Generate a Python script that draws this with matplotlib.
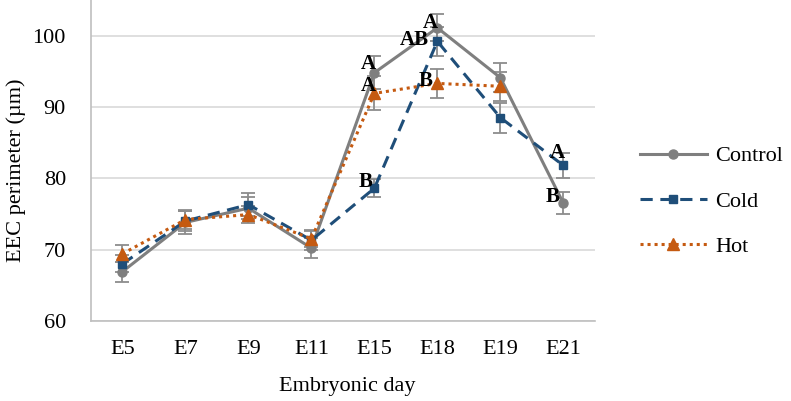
import matplotlib
matplotlib.use("Agg")
import matplotlib.pyplot as plt
import numpy as np

days = ["E5", "E7", "E9", "E11", "E15", "E18", "E19", "E21"]
control = [66.9, 73.8, 75.8, 70.2, 94.8, 101.1, 94.1, 76.5]
cold = [68.0, 74.0, 76.3, 71.3, 78.6, 99.2, 88.5, 81.8]
hot = [69.4, 74.2, 74.9, 71.5, 91.9, 93.3, 92.9, np.nan]
control_err = [1.4, 1.6, 1.5, 1.4, 2.3, 1.9, 2.0, 1.5]
cold_err = [1.2, 1.4, 1.6, 1.3, 1.3, 2.0, 2.1, 1.7]
hot_err = [1.2, 1.3, 1.2, 1.2, 2.4, 2.0, 2.0, np.nan]

# letters: (series, day index, text)
letters = [
    ("control", 4, "A"), ("hot", 4, "A"), ("cold", 4, "B"),
    ("control", 5, "A"), ("cold", 5, "AB"), ("hot", 5, "B"),
    ("cold", 7, "A"), ("control", 7, "B"),
]
offsets = [(-4.5, 6.5), (-4.5, 5), (-6, 4.3), (-5, 3.6), (-16.5, 0.7), (-8.6, 2),
           (-4.3, 8.6), (-8, 4.3)]

plt.rcParams['font.family'] = ['Liberation Serif', 'DejaVu Serif']

fig = plt.figure(figsize=(7.91, 4.01), dpi=100)
ax = fig.add_axes([0.115, 0.2, 0.637, 0.8])

x = np.arange(len(days))
c_ctrl = "#7F7F7F"
c_cold = "#1F4E79"
c_hot = "#C55A11"
ecol = "#8C8C8C"

for vals, err in [(control, control_err), (cold, cold_err), (hot, hot_err)]:
    ax.errorbar(x, vals, yerr=err, fmt='none', ecolor=ecol, elinewidth=1.3,
                capsize=5, capthick=1.3, zorder=2)

ax.plot(x, control, color=c_ctrl, lw=2.2, marker='o', ms=6.5, label="Control", zorder=3)
ax.plot(x, cold, color=c_cold, lw=2.2, ls=(0, (4, 2.5)), marker='s', ms=6, label="Cold", zorder=4)
ax.plot(x, hot, color=c_hot, lw=2.2, ls=(0, (1, 1.3)), marker='^', ms=8, label="Hot", zorder=5)

series = {"control": control, "cold": cold, "hot": hot}
for (s, i, t), (dx, dy) in zip(letters, offsets):
    ax.annotate(t, (x[i], series[s][i]), xytext=(dx, dy), textcoords='offset points',
                ha='center', va='center', fontsize=15, fontweight='bold', zorder=6)

ax.set_xlim(-0.5, len(days) - 0.5)
ax.set_ylim(60, 105)
ax.set_yticks([60, 70, 80, 90, 100])
ax.set_xticks(x)
ax.set_xticklabels(days)
ax.tick_params(axis='both', length=0, labelsize=16)
ax.tick_params(axis='x', pad=14)
ax.tick_params(axis='y', pad=18)
ax.yaxis.grid(True, color="#D9D9D9", lw=1.2)
ax.set_axisbelow(True)
for sp in ["top", "right"]:
    ax.spines[sp].set_visible(False)
for sp in ["left", "bottom"]:
    ax.spines[sp].set_color("#BFBFBF")
    ax.spines[sp].set_linewidth(1.2)

ax.set_ylabel("EEC perimeter (µm)", fontsize=16)
ax.yaxis.set_label_coords(-0.128, 0.47)
ax.set_xlabel("Embryonic day", fontsize=16)
ax.xaxis.set_label_coords(0.508, -0.176)

ax.legend(loc='center left', bbox_to_anchor=(1.05, 0.372), frameon=False, fontsize=16,
          handlelength=3.0, handletextpad=0.4, labelspacing=1.12)

fig.savefig("out.png", dpi=100)
